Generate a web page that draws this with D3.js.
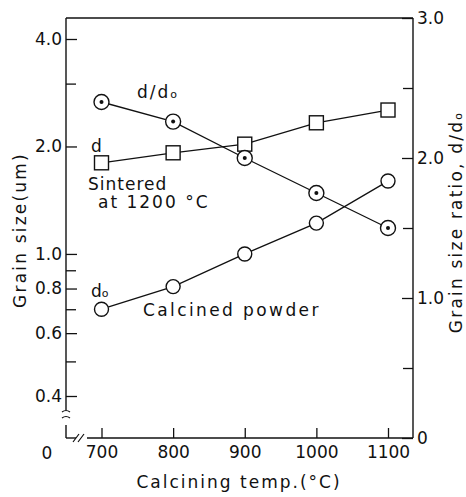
<!DOCTYPE html>
<html>
<head>
<meta charset="utf-8">
<script src="https://cdn.jsdelivr.net/npm/d3@7"></script>
<style>
  body { margin: 0; background: #fff; }
  svg text { font-family: 'DejaVu Sans', sans-serif; fill: #111; }
</style>
</head>
<body>
<svg id="chart" width="466" height="497"></svg>
<script>
// calcining temperature (°C)
const temps = [700, 800, 900, 1000, 1100];
// grain size of sintered body d (um), left log axis
const sinteredSize = [1.80, 1.92, 2.03, 2.33, 2.53];
// grain size of calcined powder d0 (um), left log axis
const powderSize = [0.70, 0.81, 1.00, 1.22, 1.60];
// grain size ratio d/d0, right axis
const sizeRatio = [2.40, 2.26, 2.00, 1.75, 1.50];

const xTicks = [700, 800, 900, 1000, 1100];
const leftTicks = [0.4, 0.6, 0.8, 1.0, 2.0, 4.0];
const leftMinor = [0.5, 0.7, 0.9, 3.0];
const rightTicks = [0, 1, 2, 3];
const rightMinor = [0.5, 1.5, 2.5];

const frame = {left: 66, right: 413, top: 18, bottom: 438};

const svg = d3.select('#chart');

const x = d3.scaleLinear().domain([700, 1100]).range([101.5, 388]);
const yLeft = d3.scaleLog().domain([0.4, 4.0]).range([396, 39]);
const yRight = d3.scaleLinear().domain([0, 3]).range([frame.bottom, frame.top]);

// frame lines, with breaks on the left and bottom
const frameLines = [
  [frame.left, frame.top, frame.right, frame.top],
  [frame.right, frame.top, frame.right, frame.bottom],
  [frame.left, frame.top, frame.left, 410],
  [frame.left, 425, frame.left, frame.bottom],
  [frame.left, frame.bottom, 76, frame.bottom],
  [87, frame.bottom, frame.right, frame.bottom]
];
svg.append('g')
  .selectAll('line')
  .data(frameLines)
  .join('line')
  .attr('x1', d => d[0]).attr('y1', d => d[1])
  .attr('x2', d => d[2]).attr('y2', d => d[3])
  .attr('stroke', '#111')
  .attr('stroke-width', 1.4);

// break marks
svg.append('path')
  .attr('d', 'M62,412 q4,-3 8,0 M62,418 q4,-3 8,0 M73,442 l6,-8 M78,442 l6,-8')
  .attr('fill', 'none')
  .attr('stroke', '#111')
  .attr('stroke-width', 1.2);

function styleAxis(g) {
  g.select('.domain').remove();
  g.selectAll('.tick line').attr('stroke', '#111').attr('stroke-width', 1.3);
  g.selectAll('.tick text')
    .attr('font-family', 'DejaVu Sans, sans-serif')
    .attr('font-size', 17)
    .attr('fill', '#111');
}

// left axis (log)
svg.append('g')
  .attr('transform', `translate(${frame.left},0)`)
  .call(d3.axisLeft(yLeft).tickValues(leftTicks).tickSize(-11).tickPadding(4).tickFormat(d3.format('.1f')))
  .call(styleAxis);
svg.append('g')
  .attr('transform', `translate(${frame.left},0)`)
  .call(d3.axisLeft(yLeft).tickValues(leftMinor).tickSize(-10).tickFormat(''))
  .call(styleAxis);

// right axis
svg.append('g')
  .attr('transform', `translate(${frame.right},0)`)
  .call(d3.axisRight(yRight).tickValues(rightTicks).tickSize(-11).tickPadding(4)
    .tickFormat(d => d === 0 ? '0' : d3.format('.1f')(d)))
  .call(styleAxis);
svg.append('g')
  .attr('transform', `translate(${frame.right},0)`)
  .call(d3.axisRight(yRight).tickValues(rightMinor).tickSize(-10).tickFormat(''))
  .call(styleAxis);

// bottom axis
svg.append('g')
  .attr('transform', `translate(0,${frame.bottom})`)
  .call(d3.axisBottom(x).tickValues(xTicks).tickSize(-10).tickPadding(8).tickFormat(d3.format('d')))
  .call(styleAxis);

// corner zero
svg.append('text')
  .attr('x', 47).attr('y', 459)
  .attr('text-anchor', 'middle')
  .attr('font-size', 17)
  .text('0');

// axis titles
svg.append('text')
  .attr('transform', 'translate(26,230) rotate(-90)')
  .attr('text-anchor', 'middle')
  .attr('font-size', 17)
  .attr('letter-spacing', 2.2)
  .text('Grain size(um)');

const rTitle = svg.append('text')
  .attr('transform', 'translate(462,222) rotate(-90)')
  .attr('text-anchor', 'middle')
  .attr('font-size', 17)
  .attr('letter-spacing', 2.2);
rTitle.append('tspan').text('Grain size ratio, d/d');
rTitle.append('tspan').attr('font-size', 11).text('o');

svg.append('text')
  .attr('x', 239).attr('y', 488)
  .attr('text-anchor', 'middle')
  .attr('font-size', 17)
  .attr('letter-spacing', 2)
  .text('Calcining temp.(°C)');

// series lines
const lineLeft = vals => d3.line().x((d, i) => x(temps[i])).y(d => yLeft(d))(vals);
const lineRight = vals => d3.line().x((d, i) => x(temps[i])).y(d => yRight(d))(vals);

svg.append('path').attr('d', lineLeft(sinteredSize))
  .attr('fill', 'none').attr('stroke', '#111').attr('stroke-width', 1.3);
svg.append('path').attr('d', lineLeft(powderSize))
  .attr('fill', 'none').attr('stroke', '#111').attr('stroke-width', 1.3);
svg.append('path').attr('d', lineRight(sizeRatio))
  .attr('fill', 'none').attr('stroke', '#111').attr('stroke-width', 1.3);

// markers: squares for d
svg.append('g')
  .selectAll('rect')
  .data(sinteredSize)
  .join('rect')
  .attr('x', (d, i) => x(temps[i]) - 7)
  .attr('y', d => yLeft(d) - 7)
  .attr('width', 14).attr('height', 14)
  .attr('fill', '#fff').attr('stroke', '#111').attr('stroke-width', 1.4);

// open circles for d0
svg.append('g')
  .selectAll('circle')
  .data(powderSize)
  .join('circle')
  .attr('cx', (d, i) => x(temps[i]))
  .attr('cy', d => yLeft(d))
  .attr('r', 7)
  .attr('fill', '#fff').attr('stroke', '#111').attr('stroke-width', 1.4);

// dotted circles for d/d0
const ratioPts = svg.append('g')
  .selectAll('g')
  .data(sizeRatio)
  .join('g')
  .attr('transform', (d, i) => `translate(${x(temps[i])},${yRight(d)})`);
ratioPts.append('circle').attr('r', 7.5)
  .attr('fill', '#fff').attr('stroke', '#111').attr('stroke-width', 1.4);
ratioPts.append('circle').attr('r', 2).attr('fill', '#111');

// annotations
const ann = svg.append('g').attr('font-size', 17);
const ddo = ann.append('text').attr('x', 137).attr('y', 98).attr('letter-spacing', 2);
ddo.append('tspan').text('d/d');
ddo.append('tspan').attr('font-size', 11).text('o');
ann.append('text').attr('x', 91).attr('y', 152).text('d');
ann.append('text').attr('x', 88).attr('y', 190).attr('letter-spacing', 1).text('Sintered');
ann.append('text').attr('x', 98).attr('y', 208).attr('letter-spacing', 2).text('at 1200 °C');
const dol = ann.append('text').attr('x', 91).attr('y', 297);
dol.append('tspan').text('d');
dol.append('tspan').attr('font-size', 11).text('o');
ann.append('text').attr('x', 143).attr('y', 316).attr('letter-spacing', 2.4).text('Calcined powder');
</script>
</body>
</html>
